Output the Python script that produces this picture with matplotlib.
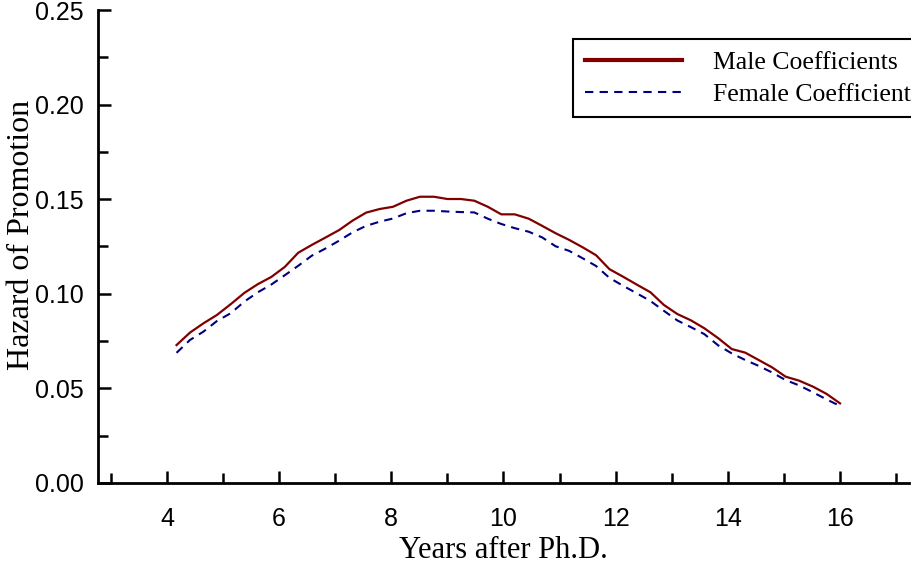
import matplotlib
matplotlib.use("Agg")
import matplotlib.pyplot as plt
from matplotlib.ticker import MultipleLocator

# years after Ph.D.
years = [4.17, 4.41, 4.65, 4.89, 5.14, 5.38, 5.62, 5.86, 6.10, 6.34,
         6.58, 6.83, 7.07, 7.31, 7.55, 7.79, 8.03, 8.27, 8.51, 8.76,
         9.00, 9.24, 9.48, 9.72, 9.96, 10.20, 10.45, 10.69, 10.93, 11.17,
         11.41, 11.65, 11.89, 12.14, 12.38, 12.62, 12.86, 13.10, 13.34, 13.58,
         13.83, 14.07, 14.31, 14.55, 14.79, 15.03, 15.27, 15.52, 15.76, 16.00]

male = [0.0729, 0.0795, 0.0844, 0.0888, 0.0946, 0.1005, 0.1051, 0.1089, 0.1142, 0.1217,
        0.1258, 0.1298, 0.1337, 0.1387, 0.1429, 0.1448, 0.1460, 0.1492, 0.1513, 0.1513,
        0.1501, 0.1501, 0.1492, 0.1460, 0.1420, 0.1420, 0.1397, 0.1359, 0.1320, 0.1285,
        0.1246, 0.1204, 0.1130, 0.1089, 0.1048, 0.1008, 0.0941, 0.0893, 0.0860, 0.0818,
        0.0765, 0.0708, 0.0689, 0.0650, 0.0611, 0.0562, 0.0541, 0.0509, 0.0471, 0.0421]

female = [0.0688, 0.0756, 0.0800, 0.0856, 0.0898, 0.0959, 0.1008, 0.1049, 0.1098, 0.1148,
          0.1201, 0.1240, 0.1281, 0.1325, 0.1359, 0.1381, 0.1398, 0.1426, 0.1439, 0.1439,
          0.1435, 0.1432, 0.1430, 0.1397, 0.1369, 0.1347, 0.1328, 0.1298, 0.1251, 0.1227,
          0.1188, 0.1147, 0.1084, 0.1041, 0.1002, 0.0962, 0.0910, 0.0859, 0.0824, 0.0787,
          0.0727, 0.0685, 0.0650, 0.0619, 0.0584, 0.0544, 0.0516, 0.0479, 0.0442, 0.0407]

xticks = [4, 6, 8, 10, 12, 14, 16]
yticks = [0.00, 0.05, 0.10, 0.15, 0.20, 0.25]

serif = "Liberation Serif"
sans = "Liberation Sans"

fig = plt.figure(figsize=(9.11, 5.65), dpi=100)
ax = fig.add_axes([98/911, 1 - 483/565, (909 - 98)/911, (483 - 10)/565])

ax.plot(years, male, color="#800000", lw=1.6, label="Male Coefficients")
ax.plot(years, female, color="#000080", lw=1.5, ls=(0, (4, 3)),
        label="Female Coefficient")

ax.set_xlim(2.77, 17.23)
ax.set_ylim(0, 0.25)
ax.set_xticks(xticks)
ax.set_yticks(yticks)
ax.set_yticklabels(["%.2f" % v for v in yticks])
ax.xaxis.set_minor_locator(MultipleLocator(1))
ax.yaxis.set_minor_locator(MultipleLocator(0.025))

for s in ["top", "right"]:
    ax.spines[s].set_visible(False)
for s in ["left", "bottom"]:
    ax.spines[s].set_linewidth(2.0)

ax.tick_params(which="major", direction="in", length=9, width=1.8)
ax.tick_params(which="minor", direction="in", length=7.5, width=1.8)
ax.tick_params(axis="x", which="major", pad=17)
ax.tick_params(axis="y", which="major", pad=10)
for lab in ax.get_xticklabels() + ax.get_yticklabels():
    lab.set_fontfamily(sans)
    lab.set_fontsize(18)

ax.set_xlabel("Years after Ph.D.", family=serif, fontsize=22, labelpad=4)
ax.set_ylabel("Hazard of Promotion", family=serif, fontsize=23)
ax.yaxis.set_label_coords(-0.076, 0.525)

leg = ax.legend(loc="upper left", bbox_to_anchor=(573/911, 1 - 39/565),
                bbox_transform=fig.transFigure, borderaxespad=0,
                prop={"family": serif, "size": 18.5}, handlelength=3.8,
                handletextpad=1.2, borderpad=0.45, labelspacing=0.35,
                fancybox=False, framealpha=1)
leg.get_frame().set_edgecolor("black")
leg.get_frame().set_linewidth(1.5)
leg.get_lines()[0].set_linewidth(3)

fig.savefig("out.png", dpi=100)
